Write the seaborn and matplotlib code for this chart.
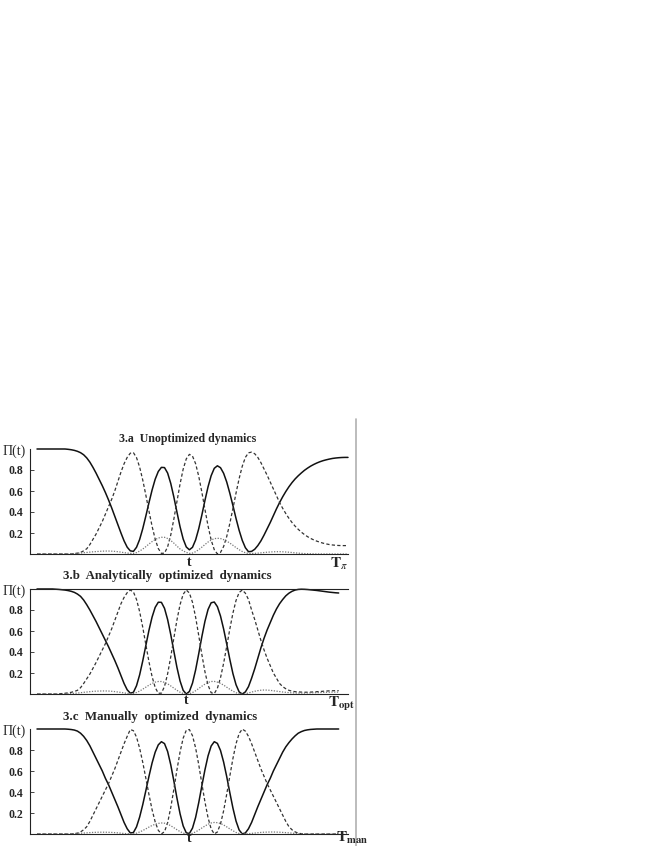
import numpy as np
import matplotlib
matplotlib.use("Agg")
import matplotlib.pyplot as plt
import seaborn as sns
from matplotlib.lines import Line2D

# populations, one value per time step (t = 0 .. end)
A_SOLID = [1.0] * 10 + [
    .997, .993, .987, .978, .965, .945, .915, .875, .825, .77,
    .71, .65, .585, .515, .44, .36, .28, .20, .125, .065,
    .03, .025, .064, .138, .241, .362, .488, .609, .712, .786,
    .825, .823, .771, .673, .543, .399, .259, .143, .067, .04,
    .064, .134, .24, .37, .51, .64, .746, .816, .84, .822,
    .769, .686, .579, .461, .338, .225, .13, .06, .022, .025,
    .045, .08, .125, .18, .24, .30, .365, .43, .49, .545,
    .595, .64, .68, .715, .745, .772, .797, .818, .837, .853,
    .867, .879, .889, .897, .904, .91, .914, .917, .919, .92,
    .92]
A_DASHED = [0.0] * 12 + [
    .003, .008, .015, .03, .05, .09, .14, .19,
    .25, .31, .38, .45, .52, .60, .69, .78, .86, .92,
    .96, .965, .918, .828, .705, .561, .409, .265, .142, .052,
    .006, .008, .068, .18, .332, .50, .667, .808, .906, .949,
    .932, .86, .741, .59, .425, .267, .133, .041, .001, .015,
    .071, .166, .291, .433, .581, .719, .836, .92, .964, .97,
    .955, .92, .87, .81, .75, .685, .62, .555, .49, .435,
    .385, .34, .30, .265, .235, .208, .185, .165, .148, .134,
    .122, .112, .103, .096, .09, .086, .083, .081, .08, .08,
    .08]
A_DOTTED = [0.0] * 10 + [
    .001, .002, .004, .006, .009, .012, .015, .018, .021, .023,
    .025, .027, .028, .028, .027, .025, .022, .018, .013, .009,
    .006, .006, .013, .028, .047, .07, .095, .118, .137, .152,
    .159, .159, .148, .129, .104, .075, .048, .03, .015, .006,
    .009, .022, .041, .065, .09, .114, .133, .146, .15, .147,
    .137, .123, .104, .083, .061, .041, .024, .012, .006, .005,
    .006, .008, .011, .014, .017, .019, .021, .022, .022, .021,
    .019, .017, .014, .011, .008, .006, .004, .003, .002, .001] + [0.0] * 11

B_SOLID = [1.0] * 6 + [
    .998, .996, .993, .99,
    .985, .978, .968, .952, .93, .895, .85, .80, .745, .69,
    .63, .57, .51, .45, .385, .32, .25, .175, .10, .04,
    .008, .016, .079, .182, .315, .462, .607, .732, .825, .874,
    .873, .816, .709, .567, .408, .253, .124, .035, .0, .024,
    .104, .229, .383, .545, .692, .805, .869, .876, .832, .743,
    .62, .477, .33, .194, .088, .02, .0, .02, .07, .15,
    .24, .34, .44, .53, .61, .68, .75, .81, .86, .90,
    .935, .96, .978, .99, .996, .998, .997, .995, .992, .989,
    .986, .982, .978, .974, .97, .967, .964, .962]
B_DASHED = [0.0] * 7 + [
    .002, .004, .007,
    .011, .016, .024, .035, .06, .10, .145, .19, .245, .30,
    .36, .42, .48, .55, .62, .70, .78, .86, .92, .965,
    .99, .972, .90, .785, .636, .47, .307, .166, .062, .007,
    .008, .072, .192, .352, .532, .705, .851, .95, .99, .962,
    .873, .732, .558, .377, .212, .084, .012, .004, .054, .154,
    .292, .453, .619, .771, .891, .967, .99, .96, .90, .80,
    .71, .61, .51, .42, .34, .27, .20, .15, .10, .07,
    .05, .035, .027, .022, .02, .018, .017, .017, .018, .02,
    .022, .024, .026, .028, .03, .031, .032, .032]
B_DOTTED = [0.0] * 10 + [
    .002, .004, .006, .009, .012, .016, .019, .022, .025, .027,
    .028, .029, .029, .028, .026, .023, .019, .015, .01, .006,
    .004, .006, .014, .028, .046, .065, .084, .101, .113, .119,
    .119, .111, .097, .077, .056, .035, .017, .005, .0, .003,
    .014, .031, .052, .074, .094, .11, .119, .12, .113, .101,
    .085, .065, .045, .027, .012, .003, .0, .003, .01, .018,
    .026, .032, .036, .038, .037, .035, .031, .027, .023, .019,
    .016, .013, .011, .01, .009, .009, .009, .01, .011, .012,
    .013, .014, .015, .016, .017, .018, .018, .018]

C_SOLID = [1.0] * 10 + [
    .998, .995, .99, .98, .96, .93, .89, .84, .78, .72,
    .66, .60, .53, .47, .40, .33, .26, .185, .11, .05,
    .01, .014, .068, .161, .279, .413, .549, .676, .779, .849,
    .879, .861, .786, .66, .506, .342, .193, .077, .011, .005,
    .056, .158, .298, .457, .611, .744, .838, .879, .863, .796,
    .686, .547, .394, .247, .123, .038, .001, .01, .05, .11,
    .185, .26, .33, .40, .47, .53, .60, .66, .72, .78,
    .83, .87, .905, .935, .96, .975, .986, .992, .996, .998] + [1.0] * 8
C_DASHED = [0.0] * 12 + [
    .003, .008, .02, .04, .07, .12, .18, .24,
    .30, .36, .42, .48, .55, .62, .70, .78, .86, .93,
    .995, .984, .923, .817, .683, .531, .376, .232, .115, .035,
    .001, .022, .107, .25, .425, .611, .781, .913, .988, .995,
    .936, .82, .661, .481, .306, .155, .048, .001, .019, .095,
    .22, .379, .552, .719, .86, .957, .999, .98, .93, .86,
    .78, .70, .62, .55, .48, .42, .36, .30, .24, .18,
    .12, .07, .04, .02, .008, .003] + [0.0] * 12
C_DOTTED = [0.0] * 10 + [
    .001, .002, .003, .005, .007, .009, .011, .013, .015, .016,
    .017, .017, .017, .016, .015, .013, .011, .008, .005, .003,
    .001, .002, .008, .019, .033, .049, .066, .081, .093, .101,
    .105, .103, .094, .079, .06, .041, .023, .009, .001, .001,
    .007, .02, .037, .057, .076, .093, .105, .11, .108, .10,
    .086, .068, .049, .031, .015, .005, .0, .001, .003, .006,
    .009, .012, .015, .017, .018, .019, .019, .018, .017, .015,
    .013, .011, .008, .006, .004, .002, .001] + [0.0] * 11

TITLES = ["3.a  Unoptimized dynamics",
          "3.b  Analytically  optimized  dynamics",
          "3.c  Manually  optimized  dynamics"]
END_LABELS = [r"$\mathbf{T}_{\pi}$", r"$\mathbf{T}_{\mathbf{opt}}$", r"$\mathbf{T}_{\mathbf{man}}$"]
YTICKS = [0.2, 0.4, 0.6, 0.8]

sns.set_theme(style="white")
plt.rcParams["font.family"] = ["Liberation Serif", "DejaVu Serif"]
plt.rcParams["mathtext.fontset"] = "stix"

W, H = 654, 846
fig = plt.figure(figsize=(W / 100, H / 100), dpi=100)


def fx(x):
    return x / W


def fy(y):
    return 1 - y / H


panels = [
    (A_SOLID, A_DASHED, A_DOTTED, 554),
    (B_SOLID, B_DASHED, B_DOTTED, 694),
    (C_SOLID, C_DASHED, C_DOTTED, 834),
]
# title: (x, y, anchor, size)
title_pos = [(188, 439, "center", 8.6), (63, 576, "left", 9.3), (63, 717, "left", 9.3)]
t_pos = [(189, 562), (186, 700), (189, 838)]
end_pos = [(330, 564), (328, 704), (336, 838)]

for i, (solid, dashed, dotted, bottom) in enumerate(panels):
    ax = fig.add_axes([fx(30), fy(bottom), fx(318), 105 / H])
    t = np.arange(len(solid))
    sns.lineplot(x=t, y=solid, ax=ax, color="#111111", lw=1.1, clip_on=False)
    sns.lineplot(x=t, y=dashed, ax=ax, color="#333333", lw=0.9,
                 linestyle=(0, (2.6, 1.8)), clip_on=False)
    sns.lineplot(x=t, y=dotted, ax=ax, color="#777777", lw=0.9,
                 linestyle=(0, (1.0, 1.2)), clip_on=False)
    ax.set_xlim(-2.25, 100)
    ax.set_ylim(0, 1)
    ax.set_xticks([])
    ax.set_yticks(YTICKS)
    ax.set_yticklabels([f"{v:.1f}" for v in YTICKS], fontsize=8.5, fontweight="bold")
    ax.tick_params(axis="y", direction="in", length=3, width=0.6, pad=5, left=True)
    ax.set_xlabel("")
    ax.set_ylabel("")
    for side in ["left", "bottom", "top"]:
        ax.spines[side].set_color("#222222")
        ax.spines[side].set_linewidth(0.8)
    ax.spines["right"].set_visible(False)
    ax.spines["top"].set_visible(i == 1)

    tx, ty, anchor, size = title_pos[i]
    fig.text(fx(tx), fy(ty), TITLES[i], ha=anchor, va="center",
             fontsize=size, fontweight="bold")
    fig.text(fx(3), fy(bottom - 103), "\u03a0(t)", ha="left", va="center", fontsize=10)
    fig.text(fx(t_pos[i][0]), fy(t_pos[i][1]), "t", ha="center", va="center",
             fontsize=10, fontweight="bold")
    fig.text(fx(end_pos[i][0]), fy(end_pos[i][1]), END_LABELS[i], ha="left",
             va="center", fontsize=11)

fig.add_artist(Line2D([fx(355.5), fx(355.5)], [fy(419), fy(846)], color="#b0b0b0", lw=1.2))

fig.savefig("out.png", dpi=100)
